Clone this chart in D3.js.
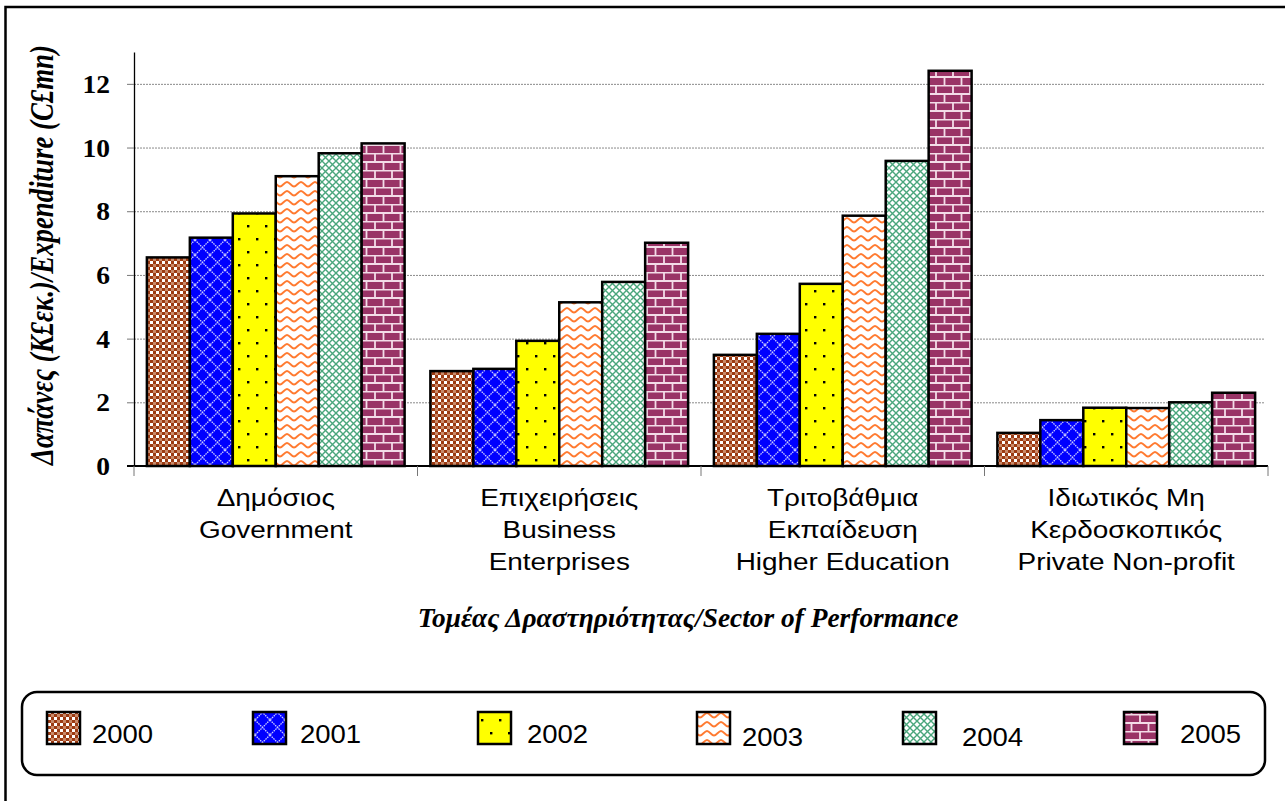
<!DOCTYPE html>
<html>
<head>
<meta charset="utf-8">
<script src="https://cdn.jsdelivr.net/npm/d3@7"></script>
<style>
  html, body { margin: 0; padding: 0; background: #fff; }
  svg { display: block; }
</style>
</head>
<body>
<svg id="chart" width="1285" height="801"></svg>
<script>
(function () {

    // data
    const sectors = ["gov", "bus", "hed", "pnp"];
    const sectorLabels = [
        ["Δημόσιος", "Government"],
        ["Επιχειρήσεις", "Business", "Enterprises"],
        ["Τριτοβάθμια", "Εκπαίδευση", "Higher Education"],
        ["Ιδιωτικός Μη", "Κερδοσκοπικός", "Private Non-profit"]
    ];
    const years = ["2000", "2001", "2002", "2003", "2004", "2005"];
    const v2000 = [6.55, 2.98, 3.49, 1.04];
    const v2001 = [7.17, 3.05, 4.15, 1.44];
    const v2002 = [7.93, 3.93, 5.72, 1.83];
    const v2003 = [9.10, 5.14, 7.86, 1.82];
    const v2004 = [9.82, 5.78, 9.58, 2.00];
    const v2005 = [10.13, 7.01, 12.41, 2.30];
    const yTicks = [0, 2, 4, 6, 8, 10, 12];

    const series = [v2000, v2001, v2002, v2003, v2004, v2005];

    const svg = d3.select('#chart');
    const SANS = "'Liberation Sans', Arial, sans-serif";
    const SERIF = "'Liberation Serif', 'Times New Roman', serif";

    // the original picture is a bit stretched sideways, so is its text
    function place(sel, x, y, sx) {
        return sel.attr('x', 0).attr('y', 0)
            .attr('transform', `translate(${x},${y}) scale(${sx},1)`);
    }

    // outer frame
    svg.append('rect')
        .attr('x', 5.5).attr('y', 7)
        .attr('width', 1400).attr('height', 1000)
        .attr('fill', 'none').attr('stroke', '#000').attr('stroke-width', 2.5);

    // ---------- fill patterns ----------
    const defs = svg.append('defs');

    function pattern(id, w, h) {
        return defs.append('pattern').attr('id', id)
            .attr('patternUnits', 'userSpaceOnUse')
            .attr('width', w).attr('height', h);
    }

    // 2000: brown small checker
    let p = pattern('p2000', 6, 6);
    p.append('rect').attr('width', 6).attr('height', 6).attr('fill', '#fff');
    p.append('rect').attr('width', 3).attr('height', 3).attr('fill', '#9c3a12');
    p.append('rect').attr('x', 3).attr('y', 3).attr('width', 3).attr('height', 3).attr('fill', '#9c3a12');
    p.append('rect').attr('x', 3).attr('y', 0).attr('width', 3).attr('height', 3).attr('fill', '#c98a6a');

    // 2001: blue with light diagonal lattice
    p = pattern('p2001', 15, 15);
    p.append('rect').attr('width', 15).attr('height', 15).attr('fill', '#0000ff');
    p.append('path').attr('d', 'M0,0L15,15M15,0L0,15')
        .attr('stroke', '#c8c8ff').attr('stroke-width', 1.3)
        .attr('stroke-dasharray', '1.6,0.8');

    // 2002: yellow with black dots
    p = pattern('p2002', 18, 26);
    p.append('rect').attr('width', 18).attr('height', 26).attr('fill', '#ffff00');
    p.append('rect').attr('x', 4).attr('y', 4).attr('width', 2.4).attr('height', 2.4).attr('fill', '#000');
    p.append('rect').attr('x', 13).attr('y', 17).attr('width', 2.4).attr('height', 2.4).attr('fill', '#000');

    // 2003: orange waves on white
    p = pattern('p2003', 14, 9);
    p.append('rect').attr('width', 14).attr('height', 9).attr('fill', '#fff');
    p.append('path').attr('d', 'M0,6.5C2.5,6.5 4.5,2 7,2C9.5,2 11.5,6.5 14,6.5')
        .attr('fill', 'none').attr('stroke', '#ff7a30').attr('stroke-width', 1.8);

    // 2004: green trellis
    p = pattern('p2004', 7, 7);
    p.append('rect').attr('width', 7).attr('height', 7).attr('fill', '#fff');
    p.append('path').attr('d', 'M0,0L7,7M7,0L0,7')
        .attr('stroke', '#4aa67c').attr('stroke-width', 1.4);

    // 2005: plum bricks
    p = pattern('p2005', 34, 17);
    p.append('rect').attr('width', 34).attr('height', 17).attr('fill', '#993366');
    p.append('path')
        .attr('d', 'M0,0.5H34M0,9H34M1,0V8.5M18,0V8.5M9.5,9V17M26.5,9V17')
        .attr('stroke', '#f3dce8').attr('stroke-width', 1.8);

    // ---------- scales ----------
    const x0 = d3.scaleBand().domain(sectors).range([134, 1268]).padding(0);
    const x1 = d3.scaleBand().domain(years).range([0, x0.bandwidth()])
        .paddingInner(0).paddingOuter(0.3);
    const y = d3.scaleLinear().domain([0, 13]).range([466, 52]);

    // gridlines
    svg.append('g')
        .selectAll('line')
        .data(yTicks.filter(d => d > 0))
        .join('line')
        .attr('x1', 134).attr('x2', 1265)
        .attr('y1', d => y(d) + 0.5).attr('y2', d => y(d) + 0.5)
        .attr('stroke', '#8a8a8a').attr('stroke-width', 1)
        .attr('stroke-dasharray', '2,1');

    // y axis
    const yAxis = svg.append('g')
        .attr('transform', 'translate(134,0)')
        .call(d3.axisLeft(y).tickValues(yTicks).tickSize(7).tickSizeOuter(0)
            .tickFormat(d3.format('d')));
    yAxis.select('.domain').attr('stroke', '#000').attr('stroke-width', 1.3);
    yAxis.selectAll('.tick line').attr('stroke', '#777');
    yAxis.selectAll('.tick text')
        .attr('font-family', SERIF).attr('font-weight', 'bold')
        .attr('font-size', 25).attr('fill', '#000')
        .attr('text-anchor', 'end').attr('dy', '0.34em')
        .each(function () { place(d3.select(this), -24, 0, 1.1); });

    // bars
    const groups = svg.append('g')
        .selectAll('g')
        .data(years)
        .join('g');

    groups.selectAll('rect')
        .data((yr, i) => series[i].map((v, j) => ({ yr, sector: sectors[j], v })))
        .join('rect')
        .attr('x', d => x0(d.sector) + x1(d.yr))
        .attr('y', d => y(d.v))
        .attr('width', x1.bandwidth())
        .attr('height', d => y(0) - y(d.v))
        .attr('fill', d => `url(#p${d.yr})`)
        .attr('stroke', '#000').attr('stroke-width', 2.5);

    // x axis
    svg.append('line')
        .attr('x1', 127).attr('x2', 1268)
        .attr('y1', 466).attr('y2', 466)
        .attr('stroke', '#000').attr('stroke-width', 2);
    svg.append('g')
        .selectAll('line')
        .data(sectors.map(s => x0(s)).concat([x0.range()[1]]))
        .join('line')
        .attr('x1', d => d).attr('x2', d => d)
        .attr('y1', 466).attr('y2', 476)
        .attr('stroke', '#777');

    // category labels
    const labelG = svg.append('g');
    sectors.forEach((s, i) => {
        sectorLabels[i].forEach((txt, k) => {
            place(labelG.append('text'), x0(s) + x0.bandwidth() / 2, 506 + k * 32, 1.14)
                .attr('text-anchor', 'middle')
                .attr('font-family', SANS).attr('font-size', 24.5)
                .text(txt);
        });
    });

    // axis titles
    const xt = svg.append('text')
        .attr('font-family', SERIF).attr('font-weight', 'bold').attr('font-style', 'italic')
        .attr('font-size', 28).attr('text-anchor', 'middle')
        .text('Τομέας Δραστηριότητας/Sector of Performance');
    const xtLen = xt.node().getComputedTextLength();
    place(xt, 688, 627, 541 / xtLen);

    const yt = svg.append('text')
        .attr('font-family', SERIF).attr('font-weight', 'bold').attr('font-style', 'italic')
        .attr('font-size', 22).attr('text-anchor', 'middle')
        .text('Δαπάνες (Κ£εκ.)/Expenditure (C£mn)');
    const ytLen = yt.node().getComputedTextLength();
    yt.attr('font-size', 22 * 420 / ytLen)
        .attr('x', 0).attr('y', 0)
        .attr('transform', 'translate(53,255) rotate(-90) scale(1,1.22)');

    // legend
    const swatchX = [47, 253, 478, 697, 903, 1124];
    const labelX = [92, 300, 527, 742, 962, 1180];
    const labelDy = [0, 0, 0, 3, 3, 0];

    svg.append('rect')
        .attr('x', 22).attr('y', 692)
        .attr('width', 1243).attr('height', 83)
        .attr('rx', 15).attr('ry', 15)
        .attr('fill', '#fff').attr('stroke', '#000').attr('stroke-width', 2.5);

    const leg = svg.append('g')
        .selectAll('g')
        .data(years)
        .join('g');
    leg.append('rect')
        .attr('x', (d, i) => swatchX[i]).attr('y', 712)
        .attr('width', 33).attr('height', 32)
        .attr('fill', d => `url(#p${d})`)
        .attr('stroke', '#000').attr('stroke-width', 2.5);
    leg.append('text')
        .attr('font-family', SANS).attr('font-size', 25)
        .text(d => d)
        .each(function (d, i) { place(d3.select(this), labelX[i], 743 + labelDy[i], 1.1); });

})();
</script>
</body>
</html>
